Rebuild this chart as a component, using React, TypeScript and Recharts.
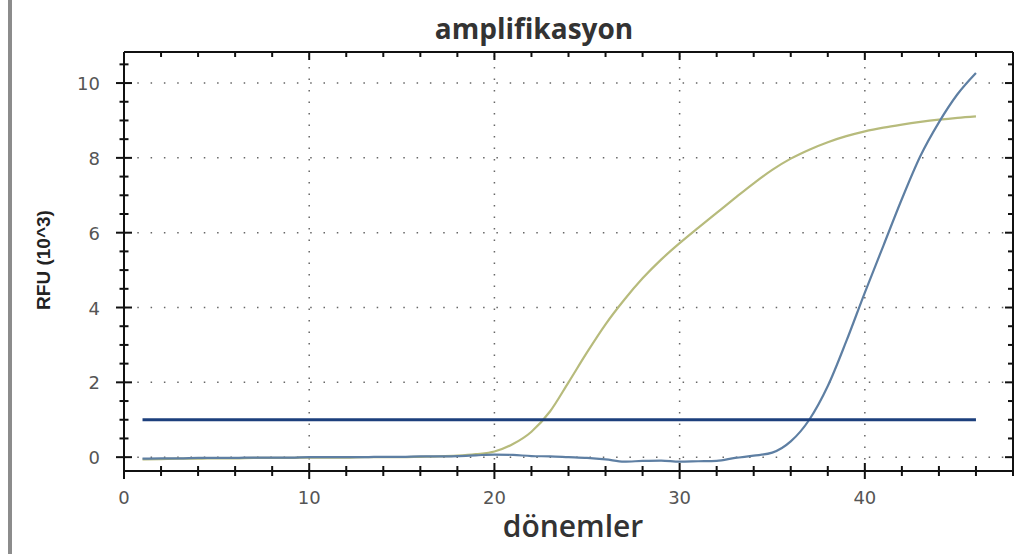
import { LineChart, Line, XAxis, YAxis, ReferenceLine } from "recharts";

// cycle numbers (dönemler)
const cycles = [
  1, 2, 3, 4, 5, 6, 7, 8, 9, 10, 11, 12, 13, 14, 15, 16, 17, 18, 19, 20, 21, 22, 23,
  24, 25, 26, 27, 28, 29, 30, 31, 32, 33, 34, 35, 36, 37, 38, 39, 40, 41, 42, 43, 44,
  45, 46,
];

// RFU (10^3)
const greenRfu = [
  -0.06, -0.05, -0.04, -0.04, -0.03, -0.03, -0.02, -0.02, -0.02, -0.01, -0.01, -0.01,
  0.0, 0.0, 0.0, 0.01, 0.02, 0.04, 0.08, 0.15, 0.35, 0.68, 1.22, 2.0, 2.8, 3.55, 4.2,
  4.78, 5.28, 5.72, 6.13, 6.53, 6.93, 7.32, 7.68, 7.98, 8.22, 8.42, 8.58, 8.71, 8.81,
  8.89, 8.96, 9.02, 9.07, 9.11,
];

const blueRfu = [
  -0.04, -0.03, -0.03, -0.02, -0.02, -0.02, -0.01, -0.01, -0.01, 0.0, 0.0, 0.0, 0.0,
  0.01, 0.01, 0.02, 0.02, 0.03, 0.05, 0.07, 0.06, 0.03, 0.02, 0.0, -0.02, -0.06, -0.12,
  -0.1, -0.09, -0.12, -0.11, -0.1, -0.02, 0.04, 0.12, 0.42, 1.0, 1.9, 3.1, 4.4, 5.65,
  6.9, 8.05, 8.95, 9.7, 10.27,
];

const THRESHOLD = 1.0;

const xTicks = [0, 2, 4, 6, 8, 10, 12, 14, 16, 18, 20, 22, 24, 26, 28, 30, 32, 34, 36, 38, 40, 42, 44, 46, 48];
const xLabels = [0, 10, 20, 30, 40];
const yTicks = [0, 0.5, 1, 1.5, 2, 2.5, 3, 3.5, 4, 4.5, 5, 5.5, 6, 6.5, 7, 7.5, 8, 8.5, 9, 9.5, 10, 10.5];
const yLabels = [0, 2, 4, 6, 8, 10];
const xGrid = [10, 20, 30, 40];
const yGrid = [0, 2, 4, 6, 8, 10];

const chartData = cycles.map((c, i) => ({
  cycle: c,
  green: greenRfu[i],
  blue: blueRfu[i],
  threshold: THRESHOLD,
}));

const AXIS = "#111";
const LABEL = "#555";
const tickFont = "'DejaVu Sans', sans-serif";

const BottomTick = ({ x, y, payload }: any) => {
  const major = xLabels.includes(payload.value);
  const h = major ? 8 : 5;
  return (
    <g>
      <line x1={x} x2={x} y1={y - h} y2={y + h} stroke={AXIS} strokeWidth={2} />
      {major && (
        <text x={x} y={y + 33} textAnchor="middle" fill={LABEL} fontSize={18} fontFamily={tickFont}>
          {payload.value}
        </text>
      )}
    </g>
  );
};

const TopTick = ({ x, y, payload }: any) => {
  const major = xLabels.includes(payload.value);
  return <line x1={x} x2={x} y1={y} y2={y + (major ? 8 : 5)} stroke={AXIS} strokeWidth={2} />;
};

const LeftTick = ({ x, y, payload }: any) => {
  const major = yLabels.includes(payload.value);
  const w = major ? 8 : 4.5;
  return (
    <g>
      <line x1={x - w} x2={x + w} y1={y} y2={y} stroke={AXIS} strokeWidth={2} />
      {major && (
        <text x={x - 24} y={y + 7} textAnchor="end" fill={LABEL} fontSize={18} fontFamily={tickFont}>
          {payload.value}
        </text>
      )}
    </g>
  );
};

const RightTick = ({ x, y, payload }: any) => {
  const major = yLabels.includes(payload.value);
  return <line x1={x - (major ? 8 : 5)} x2={x} y1={y} y2={y} stroke={AXIS} strokeWidth={2} />;
};

export default function App() {
  return (
    <div style={{ position: "absolute", left: 0, top: 0, width: 1020, height: 554, background: "#fff" }}>
      <div style={{ position: "absolute", left: 8, top: 0, width: 4, height: 554, background: "#8c8c8c" }} />
      <LineChart
        width={1020}
        height={554}
        data={chartData}
        margin={{ top: 51, right: 6, bottom: 82, left: 123 }}
      >
        <XAxis
          dataKey="cycle"
          type="number"
          domain={[0, 48]}
          ticks={xTicks}
          interval={0}
          height={1}
          tickSize={0}
          tickMargin={0}
          tickLine={false}
          axisLine={{ stroke: AXIS, strokeWidth: 2 }}
          tick={BottomTick}
        />
        <XAxis
          xAxisId="top"
          orientation="top"
          dataKey="cycle"
          type="number"
          domain={[0, 48]}
          ticks={xTicks}
          interval={0}
          height={1}
          tickSize={0}
          tickMargin={0}
          tickLine={false}
          axisLine={{ stroke: AXIS, strokeWidth: 2 }}
          tick={TopTick}
        />
        <YAxis
          type="number"
          domain={[-0.37, 10.83]}
          allowDataOverflow
          ticks={yTicks}
          interval={0}
          width={1}
          tickSize={0}
          tickMargin={0}
          tickLine={false}
          axisLine={{ stroke: AXIS, strokeWidth: 2 }}
          tick={LeftTick}
        />
        <YAxis
          yAxisId="right"
          orientation="right"
          type="number"
          domain={[-0.37, 10.83]}
          allowDataOverflow
          ticks={yTicks}
          interval={0}
          width={1}
          tickSize={0}
          tickMargin={0}
          tickLine={false}
          axisLine={{ stroke: AXIS, strokeWidth: 2 }}
          tick={RightTick}
        />
        {yGrid.map((v) => (
          <ReferenceLine key={`h${v}`} y={v} stroke="#666" strokeWidth={1.5} strokeDasharray="1.5 11.8" />
        ))}
        {xGrid.map((v) => (
          <ReferenceLine key={`v${v}`} x={v} stroke="#666" strokeWidth={1.5} strokeDasharray="1.5 10" />
        ))}
        <Line
          dataKey="green"
          type="monotone"
          stroke="#b7bb7c"
          strokeWidth={2.2}
          dot={false}
          isAnimationActive={false}
        />
        <Line
          dataKey="blue"
          type="monotone"
          stroke="#5e7fa3"
          strokeWidth={2.2}
          dot={false}
          isAnimationActive={false}
        />
        <Line
          dataKey="threshold"
          type="linear"
          stroke="#1c3f7c"
          strokeWidth={3}
          dot={false}
          isAnimationActive={false}
        />
      </LineChart>
      <svg
        width={1020}
        height={554}
        style={{ position: "absolute", left: 0, top: 0, pointerEvents: "none" }}
      >
        <text
          x={534}
          y={39}
          textAnchor="middle"
          fontFamily="'Open Sans', sans-serif"
          fontWeight={700}
          fontSize={28}
          fill="#333"
        >
          amplifikasyon
        </text>
        <text
          x={573}
          y={537}
          textAnchor="middle"
          fontFamily="'Open Sans', sans-serif"
          fontWeight={600}
          fontSize={30}
          fill="#333"
        >
          dönemler
        </text>
        <text
          x={50}
          y={260}
          textAnchor="middle"
          transform="rotate(-90 50 260)"
          fontFamily="'Liberation Sans', Arial, sans-serif"
          fontWeight={700}
          fontSize={19}
          fill="#222"
        >
          RFU (10^3)
        </text>
      </svg>
    </div>
  );
}
